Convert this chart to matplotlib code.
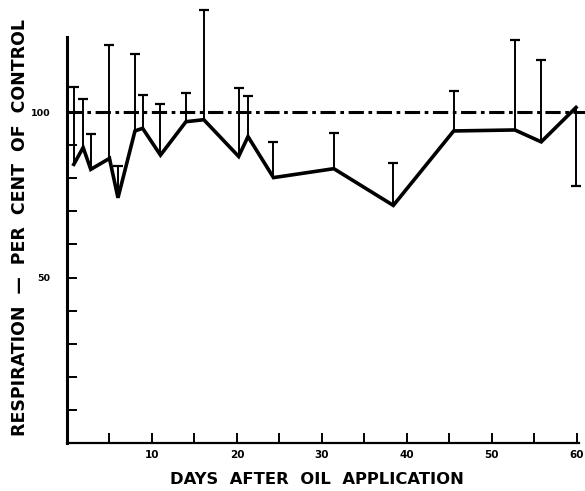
import numpy as np
import matplotlib.pyplot as plt

# days after oil application, mean respiration (% of control), error bar ends
days = [0.8, 1.9, 2.8, 5.0, 6.0, 8.0, 8.9, 11.0, 14.0, 16.1, 20.2, 21.3, 24.3,
        31.4, 38.4, 45.5, 52.7, 55.8, 59.9]
resp = [84.2, 89.3, 82.7, 86.0, 74.1, 94.3, 95.1, 87.0, 97.1, 97.7, 86.6, 92.6,
        80.2, 82.9, 71.8, 94.3, 94.6, 91.0, 101.4]
err_end = [107.6, 104.0, 93.3, 120.4, 83.7, 117.6, 105.2, 102.4, 105.8, 130.9,
           107.2, 104.8, 91.0, 93.8, 84.7, 106.3, 121.9, 115.8, 77.7]

xticks = [10, 20, 30, 40, 50, 60]
yticks_lab = [50, 100]

fig = plt.figure(figsize=(5.85, 4.91), dpi=100)
ax = fig.add_axes([0.1145, 0.0977, 0.876, 0.827])

# reference line at 100 per cent
ax.plot([0, 61.5], [100, 100], color='black', ls=(0, (5, 1.5, 1.2, 1.5)), lw=2.2,
        clip_on=False, zorder=1)

ax.plot(days, resp, color='black', lw=2.6, solid_joinstyle='miter', zorder=3)
ax.vlines(days, resp, err_end, color='black', lw=1.4, clip_on=False, zorder=2)
ax.plot(days, err_end, ls='none', marker='_', ms=7, mew=1.6, color='black',
        clip_on=False)

ax.set_xlim(0, 60.3)
ax.set_ylim(0, 122.7)

ax.spines['top'].set_visible(False)
ax.spines['right'].set_visible(False)
ax.spines['left'].set_linewidth(2.2)
ax.spines['bottom'].set_linewidth(1.6)

ax.set_xticks(np.arange(5, 61, 5))
ax.set_xticklabels([str(t) if t in xticks else '' for t in range(5, 61, 5)],
                   fontsize=7.5, fontweight='bold')
ax.set_yticks(np.arange(10, 101, 10))
ax.set_yticklabels([str(t) if t in yticks_lab else '' for t in range(10, 101, 10)],
                   fontsize=6.8, fontweight='bold')
ax.tick_params(direction='in', length=7, width=1.4, pad=5)
ax.tick_params(axis='y', pad=12)

ax.set_xlabel('DAYS  AFTER  OIL  APPLICATION', fontsize=11.8, fontweight='bold')
ax.xaxis.set_label_coords(0.488, -0.072)
ax.set_ylabel('RESPIRATION  \u2014  PER  CENT  OF  CONTROL', fontsize=12.5,
              fontweight='bold')
ax.yaxis.set_label_coords(-0.074, 0.53)

fig.savefig('out.png', dpi=100)
